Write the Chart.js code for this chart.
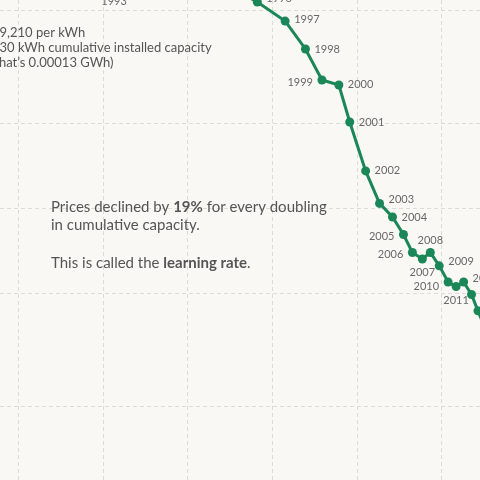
<!DOCTYPE html>
<html>
<head>
<meta charset="utf-8">
<script src="https://cdn.jsdelivr.net/npm/chart.js@4"></script>
<style>
html,body{margin:0;padding:0;background:#f9f8f4;}
#wrap{width:480px;height:480px;position:relative;}
</style>
</head>
<body>
<div id="wrap"><canvas id="c" width="480" height="480"></canvas></div>
<script>
// ---- data ----
const years = [1991,1992,1993,1994,1995,1996,1997,1998,1999,2000,2001,2002,2003,2004,2005,2006,2007,2008,2009,2010,2011,2012,2013,2014,2015];
// cumulative installed capacity, GWh (log scale)
const capacityGWh = [0.00013,0.0012,0.0134,0.0646,0.31,0.661,1.41,2.45,3.84,6.08,8.18,12.6,18.4,26.2,35.3,45.0,59.0,73.3,93.5,119,148,181.5,225,268,333];
// price, $ per kWh (log scale)
const pricePerKWh = [9210,7600,6150,6100,6050,5335,4571,3646,2835,2722,2017,1356,1042,933,810,700,664,700,628,551,531,551,498,436,373];
// grid line values
const xGridValues = [0.001,0.01,0.1,1,10,100];
const yGridValues = [5000,2000,1000,500,200];

// ---- label placement (style) ----
const labelPlace = {
  1993:['b',17],1996:['r',-4],1997:['r',-2],1998:['r',0],1999:['l',2],2000:['r',-1],
  2001:['r',0],2002:['r',0],2003:['r',-4],2004:['r',0],2005:['l',2],2006:['l',2],
  2007:['b',13],2008:['t',-12],2009:['r',-4],2010:['l',4],2011:['b',13.5],
  2012:['r',-4],2013:['r',-3],2014:['r',-3],2015:['r',-3]
};

const GREEN = '#1b8657';
const TEXT = '#555555';
const LABEL = '#686868';
const GRID = '#dcdcd7';

const points = years.map((y,i)=>({x:capacityGWh[i], y:pricePerKWh[i]}));

function setTicks(values){
  return function(scale){ scale.ticks = values.map(v=>({value:v})); };
}

const labelsPlugin = {
  id:'yearLabels',
  afterDatasetsDraw(chart){
    const ctx = chart.ctx;
    const meta = chart.getDatasetMeta(0);
    ctx.save();
    ctx.font = '11px Lato';
    ctx.fillStyle = LABEL;
    ctx.textBaseline = 'middle';
    meta.data.forEach((el,i)=>{
      const yr = years[i];
      const p = labelPlace[yr];
      if(!p) return;
      const [side, dy] = p;
      let x = el.x, y = el.y + dy;
      if(side==='r'){ ctx.textAlign='left'; x += 9; }
      else if(side==='l'){ ctx.textAlign='right'; x -= 9; }
      else { ctx.textAlign='center'; }
      ctx.fillText(String(yr), x, y);
    });
    ctx.restore();
  }
};

function drawRich(ctx, parts, x, y){
  let cx = x;
  parts.forEach(([t,bold])=>{
    ctx.font = (bold?'bold ':'') + '15px Lato';
    ctx.fillText(t, cx, y);
    cx += ctx.measureText(t).width;
  });
}

const notesPlugin = {
  id:'notes',
  afterDraw(chart){
    const ctx = chart.ctx;
    ctx.save();
    ctx.fillStyle = TEXT;
    ctx.textBaseline = 'middle';
    ctx.textAlign = 'left';
    ctx.font = '13px Lato';
    const lx = -8;
    ctx.fillText('$9,210 per kWh', lx, 33);
    ctx.fillText('130 kWh cumulative installed capacity', lx, 48);
    ctx.fillText('(that\u2019s 0.00013 GWh)', lx - 1, 63);

    drawRich(ctx, [['Prices declined by ',false],['19%',true],[' for every doubling',false]], 51, 207);
    drawRich(ctx, [['in cumulative capacity.',false]], 51, 225);
    drawRich(ctx, [['This is called the ',false],['learning rate',true],['.',false]], 51, 263);
    ctx.restore();
  }
};

new Chart(document.getElementById('c'), {
  type:'line',
  data:{
    datasets:[{
      data: points,
      borderColor: GREEN,
      backgroundColor: GREEN,
      borderWidth: 3,
      pointRadius: 4.5,
      pointBorderWidth: 0,
      pointBackgroundColor: GREEN,
      tension: 0,
      clip: false
    }]
  },
  options:{
    responsive:false,
    animation:false,
    layout:{padding:0, autoPadding:false},
    plugins:{legend:{display:false}, tooltip:{enabled:false}},
    scales:{
      x:{
        type:'logarithmic',
        min:0.000649, max:283.5,
        afterBuildTicks: setTicks(xGridValues),
        ticks:{display:false},
        grid:{color:GRID, lineWidth:1, drawTicks:false},
        border:{display:false, dash:[4,3]}
      },
      y:{
        type:'logarithmic',
        min:110.6, max:5423,
        afterBuildTicks: setTicks(yGridValues),
        ticks:{display:false},
        grid:{color:GRID, lineWidth:1, drawTicks:false},
        border:{display:false, dash:[4,3]}
      }
    }
  },
  plugins:[labelsPlugin, notesPlugin]
});
</script>
</body>
</html>
